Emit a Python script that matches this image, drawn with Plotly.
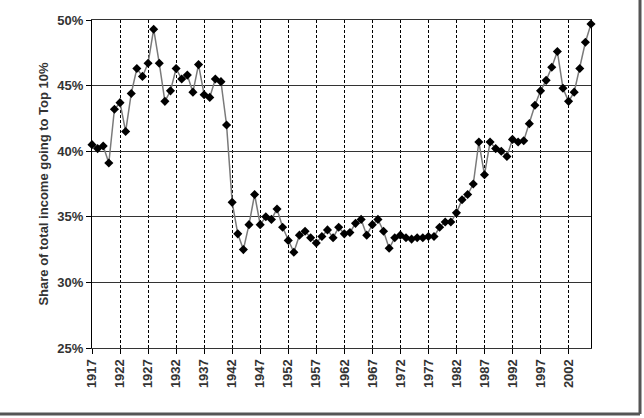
import plotly.graph_objects as go

years = list(range(1917, 2007))
top10_share = [
    40.5, 40.2, 40.4, 39.1, 43.2, 43.7, 41.5, 44.4, 46.3, 45.7,
    46.7, 49.3, 46.7, 43.8, 44.6, 46.3, 45.5, 45.8, 44.5, 46.6,
    44.3, 44.1, 45.5, 45.3, 42.0, 36.1, 33.7, 32.5, 34.4, 36.7,
    34.4, 35.0, 34.8, 35.6, 34.2, 33.2, 32.3, 33.6, 33.9, 33.4,
    33.0, 33.5, 34.0, 33.4, 34.2, 33.7, 33.8, 34.5, 34.8, 33.6,
    34.4, 34.8, 33.9, 32.6, 33.4, 33.6, 33.4, 33.3, 33.4, 33.4,
    33.5, 33.5, 34.2, 34.6, 34.6, 35.3, 36.3, 36.7, 37.5, 40.7,
    38.2, 40.7, 40.2, 40.0, 39.6, 40.9, 40.7, 40.8, 42.1, 43.5,
    44.6, 45.4, 46.4, 47.6, 44.8, 43.8, 44.5, 46.3, 48.3, 49.7,
]
x_tick_years = list(range(1917, 2003, 5))
x_tick_labels = [str(y) for y in x_tick_years]
y_tick_values = [25, 30, 35, 40, 45, 50]
y_tick_labels = [f"{v}%" for v in y_tick_values]

fig = go.Figure()
fig.add_trace(go.Scatter(
    x=years, y=top10_share, mode="lines+markers",
    line=dict(color="#7a7a7a", width=1.5),
    marker=dict(symbol="diamond", size=7, color="#000000"),
    cliponaxis=False, showlegend=False,
))

W, H = 644, 418
L, R, T, B = 92, 53, 20, 70
pw, ph = W - L - R, H - T - B

font_family = "Liberation Sans, Arial, sans-serif"
fig.update_layout(
    width=W, height=H,
    margin=dict(l=L, r=R, t=T, b=B),
    paper_bgcolor="white", plot_bgcolor="white",
    font=dict(family=font_family, color="#333333"),
    xaxis=dict(
        range=[1917, 2006], tickvals=x_tick_years, ticktext=x_tick_labels,
        tickangle=-90, ticks="outside", ticklen=5, tickcolor="#000",
        tickfont=dict(size=13, weight="bold", color="#333"),
        showgrid=True, gridcolor="#000", gridwidth=1, griddash="3px,2px",
        showline=True, linecolor="#333", linewidth=1, mirror=True,
        zeroline=False,
    ),
    yaxis=dict(
        range=[25, 50], tickvals=y_tick_values, ticktext=y_tick_labels,
        ticks="outside", ticklen=5, tickcolor="#000",
        tickfont=dict(size=13, weight="bold", color="#333"),
        showgrid=True, gridcolor="#333", gridwidth=1,
        showline=True, linecolor="#000", linewidth=1, mirror=True,
        zeroline=False,
        title=dict(text="Share of total income going to Top 10%",
                   font=dict(size=13, weight="bold", color="#333"), standoff=5),
    ),
)

# frame shadow (right and bottom edges)
fx = (640 - L) / pw
fy = -(414 - (H - B)) / ph
fig.add_shape(type="line", xref="paper", yref="paper",
              x0=fx, x1=fx, y0=1 + T / ph, y1=fy,
              line=dict(color="#555", width=3))
fig.add_shape(type="line", xref="paper", yref="paper",
              x0=-L / pw, x1=fx, y0=fy, y1=fy,
              line=dict(color="#555", width=3))

fig.write_html("out.html", config={"displayModeBar": False},
               post_script="document.body.style.margin='0';document.body.style.overflow='hidden';")
